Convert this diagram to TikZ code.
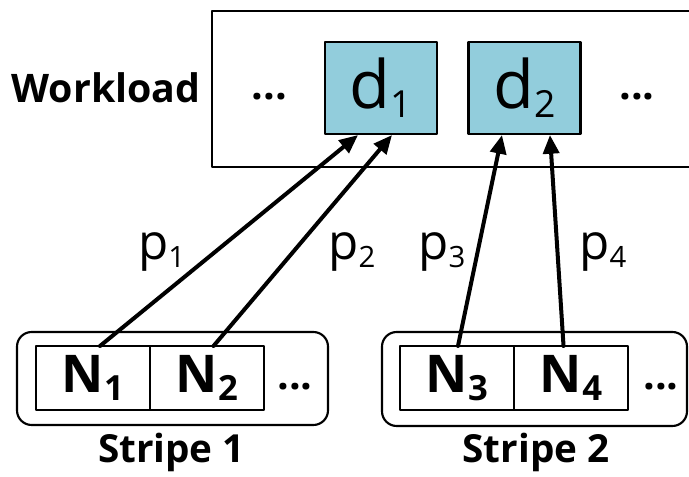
\documentclass[tikz,border=0pt]{standalone}
\usepackage{fontspec}
\setmainfont{Open Sans}
\usetikzlibrary{arrows.meta,positioning}
\definecolor{dblue}{rgb}{0.573,0.804,0.863}
\newcommand{\sub}[3]{#1{\fontsize{#2}{#2}\selectfont\raisebox{-0.24em}{#3}}}

\begin{document}
\begin{tikzpicture}[line cap=round,line join=round,>={Triangle[length=14pt,width=12pt]},x=0.75pt,y=0.75pt,
  dbox/.style={draw,line width=1.6pt,fill=dblue,minimum width=84pt,minimum height=69pt,inner sep=0pt,font=\fontsize{50}{50}\selectfont},
  nbox/.style={draw,line width=1.2pt,minimum width=85.5pt,minimum height=48pt,inner sep=0pt,outer sep=0pt,font=\fontsize{39}{39}\selectfont\bfseries},
  stripebox/.style={draw,line width=1.6pt,rounded corners=11pt,inner sep=0pt},
  dots/.style={font=\fontsize{31}{31}\selectfont\bfseries,inner sep=0pt},
  plab/.style={anchor=base west,inner sep=0pt,font=\fontsize{37}{37}\selectfont},
  boldlab/.style={anchor=base,inner sep=0pt,font=\fontsize{29}{29}\selectfont\bfseries},
  link/.style={->,line width=3pt}]
\useasboundingbox (0,0) rectangle (689,477);
% workload
\draw [line width=1.6pt] (695,466) -- (212,466) -- (212,310) -- (695,310);
\node [boldlab,font=\fontsize{29.5}{29.5}\selectfont\bfseries] (wl) at (106,374) {Workload};
\node [dbox] (d1) at (381,389) {\sub{d}{28}{1}};
\node [dbox] (d2) at (524.5,389) {\sub{d}{28}{2}};
\node [dots] (wdots1) at (269.5,380) {...};
\node [dots] (wdots2) at (637,380) {...};
% stripes
\node [stripebox,minimum width=233.25pt,minimum height=69.75pt] (s1) at (172.5,98.5) {};
\node [stripebox,minimum width=228.75pt,minimum height=70.5pt] (s2) at (534.5,98) {};
\node [nbox] (n1) at (93,99) {\sub{N}{26}{1}};
\node [nbox,right=0pt of n1] (n2) {\sub{N}{26}{2}};
\node [nbox] (n3) at (457,99) {\sub{N}{26}{3}};
\node [nbox,right=0pt of n3] (n4) {\sub{N}{26}{4}};
\node [dots] (sdots1) at (295,90) {...};
\node [dots] (sdots2) at (661,90) {...};
\node [boldlab] (lab1) at (171.5,14) {Stripe 1};
\node [boldlab] (lab2) at (536,14) {Stripe 2};
% placements
\draw [link] ([xshift=5.25pt]n1.north) -- ([xshift=-17.25pt]d1.south);
\draw [link] ([xshift=4.9pt]n2.north) -- ([xshift=8.25pt]d1.south);
\draw [link] ([xshift=0.75pt]n3.north) -- ([xshift=-16.9pt]d2.south);
\draw [link] ([xshift=-5.6pt]n4.north) -- ([xshift=19.1pt]d2.south);
\node [plab] (p1) at (138,217) {\sub{p}{22}{1}};
\node [plab] (p2) at (328,217) {\sub{p}{22}{2}};
\node [plab] (p3) at (418,217) {\sub{p}{22}{3}};
\node [plab] (p4) at (579,217) {\sub{p}{22}{4}};
\end{tikzpicture}
\end{document}
